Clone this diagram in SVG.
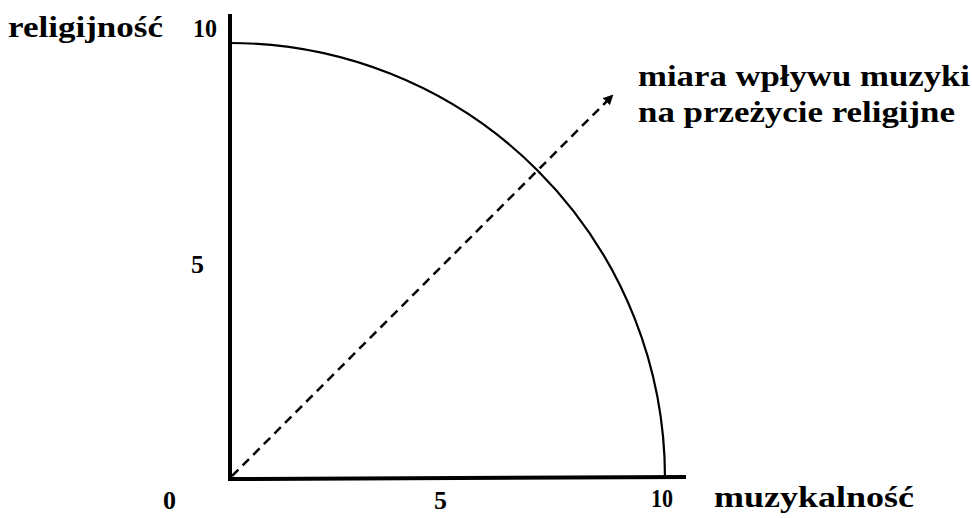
<svg xmlns="http://www.w3.org/2000/svg" width="972" height="518" viewBox="0 0 972 518">
<style>
text{font-family:"Liberation Serif","DejaVu Serif",serif;font-weight:bold;fill:#000}
.lbl{font-size:30px}
.num{font-size:26px}
.axis{stroke:#000;stroke-width:4;fill:none}
.arc{stroke:#000;stroke-width:2.2;fill:none}
.dash{stroke:#000;stroke-width:2.5;stroke-dasharray:9,6;fill:none}
</style>
<defs>
<marker id="ah" markerWidth="10" markerHeight="10" refX="8" refY="5" orient="auto" markerUnits="userSpaceOnUse">
<path d="M0,0 L10,5 L0,10 Z" fill="#000"/>
</marker>
</defs>
<g id="axes">
<line class="axis" x1="230" y1="14" x2="230" y2="480"/>
<line class="axis" x1="228" y1="479" x2="686" y2="477"/>
</g>
<g id="curve">
<path class="arc" d="M230,43 A435,435 0 0 1 665,478"/>
</g>
<g id="connectors">
<line class="dash" x1="232" y1="476" x2="612" y2="96" marker-end="url(#ah)"/>
</g>
<g id="labels">
<text class="lbl" x="8" y="37" textLength="155" lengthAdjust="spacingAndGlyphs">religijność</text>
<text class="num" x="193" y="37" textLength="24" lengthAdjust="spacingAndGlyphs">10</text>
<text class="num" x="191" y="273">5</text>
<text class="num" x="163" y="509">0</text>
<text class="num" x="434" y="509">5</text>
<text class="num" x="651" y="507" textLength="22" lengthAdjust="spacingAndGlyphs">10</text>
<text class="lbl" x="714" y="507" textLength="200" lengthAdjust="spacingAndGlyphs">muzykalność</text>
<text class="lbl" x="638" y="86" textLength="332" lengthAdjust="spacingAndGlyphs">miara wpływu muzyki</text>
<text class="lbl" x="638" y="122" textLength="317" lengthAdjust="spacingAndGlyphs">na przeżycie religijne</text>
</g>
</svg>
